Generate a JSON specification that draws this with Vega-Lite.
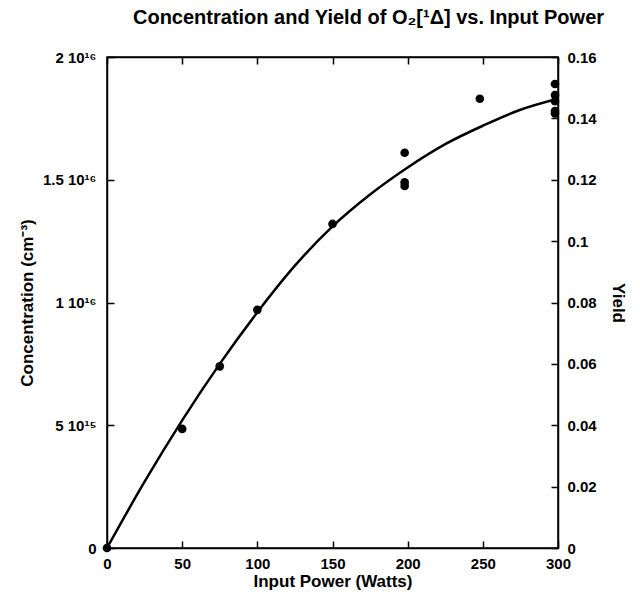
{
  "$schema": "https://vega.github.io/schema/vega-lite/v6.json",
  "width": 451,
  "height": 491,
  "autosize": "none",
  "padding": {"left": 107, "top": 57, "right": 82, "bottom": 52},
  "background": "white",
  "config": {
    "font": "Liberation Sans",
    "view": {"stroke": "black", "strokeWidth": 1.5},
    "axis": {
      "domainColor": "black", "domainWidth": 1.5, "tickColor": "black", "tickWidth": 1.5,
      "labelColor": "black", "titleColor": "black", "labelFont": "Liberation Sans", "titleFont": "Liberation Sans",
      "labelFontWeight": "bold", "titleFontWeight": "bold", "labelFontSize": 15, "titleFontSize": 17, "grid": false,
      "labelFlush": false
    }
  },
  "title": {
    "text": "Concentration and Yield of O₂[¹Δ] vs. Input Power",
    "font": "Liberation Sans", "fontSize": 20, "fontWeight": "bold", "color": "black",
    "anchor": "middle", "offset": 22, "dx": 36
  },
  "datasets": {
    "points": [
      {"power": 0, "conc": 0, "yield": 0},
      {"power": 50, "conc": 4.85e15, "yield": 0.0388},
      {"power": 75, "conc": 7.4e15, "yield": 0.0592},
      {"power": 100, "conc": 9.7e15, "yield": 0.0776},
      {"power": 150, "conc": 1.32e16, "yield": 0.1056},
      {"power": 198, "conc": 1.61e16, "yield": 0.1288},
      {"power": 198, "conc": 1.49e16, "yield": 0.1192},
      {"power": 198, "conc": 1.475e16, "yield": 0.118},
      {"power": 248, "conc": 1.83e16, "yield": 0.1464},
      {"power": 298, "conc": 1.89e16, "yield": 0.1512},
      {"power": 298, "conc": 1.845e16, "yield": 0.1476},
      {"power": 298, "conc": 1.82e16, "yield": 0.1456},
      {"power": 298, "conc": 1.78e16, "yield": 0.1424},
      {"power": 298, "conc": 1.77e16, "yield": 0.1416}
    ],
    "fit": [
      {"power": 0, "conc": 0},
      {"power": 25, "conc": 2.7e15},
      {"power": 50, "conc": 5.2e15},
      {"power": 75, "conc": 7.5e15},
      {"power": 100, "conc": 9.6e15},
      {"power": 125, "conc": 1.15e16},
      {"power": 150, "conc": 1.31e16},
      {"power": 175, "conc": 1.44e16},
      {"power": 200, "conc": 1.55e16},
      {"power": 225, "conc": 1.645e16},
      {"power": 250, "conc": 1.72e16},
      {"power": 275, "conc": 1.785e16},
      {"power": 300, "conc": 1.83e16}
    ]
  },
  "layer": [
    {
      "data": {"name": "fit"},
      "mark": {"type": "line", "color": "black", "strokeWidth": 2.5, "interpolate": "monotone", "clip": true},
      "encoding": {
        "x": {"field": "power", "type": "quantitative", "scale": {"domain": [0, 300], "nice": false},
          "axis": {"title": "Input Power (Watts)", "values": [0, 50, 100, 150, 200, 250, 300], "tickSize": -7, "labelPadding": 15, "titlePadding": 2}},
        "y": {"field": "conc", "type": "quantitative", "scale": {"domain": [0, 2e16], "nice": false},
          "axis": {"title": "Concentration (cm⁻³)", "values": [0, 5e15, 1e16, 1.5e16, 2e16], "tickSize": -7, "labelPadding": 18, "titlePadding": 6,
            "labelExpr": "datum.value == 0 ? '0' : datum.value == 5e15 ? '5 10¹⁵' : datum.value == 1e16 ? '1 10¹⁶' : datum.value == 1.5e16 ? '1.5 10¹⁶' : '2 10¹⁶'"}}
      }
    },
    {
      "data": {"name": "points"},
      "mark": {"type": "point", "filled": true, "color": "black", "size": 75, "opacity": 1, "clip": false},
      "encoding": {
        "x": {"field": "power", "type": "quantitative",
          "axis": {"orient": "top", "labels": false, "title": null, "values": [0, 50, 100, 150, 200, 250, 300], "tickSize": -7}},
        "y": {"field": "conc", "type": "quantitative", "axis": null}
      }
    },
    {
      "data": {"name": "points"},
      "mark": {"type": "point", "opacity": 0},
      "encoding": {
        "x": {"field": "power", "type": "quantitative", "axis": null},
        "y": {"field": "yield", "type": "quantitative", "scale": {"domain": [0, 0.16], "nice": false},
          "axis": {"orient": "right", "title": "Yield", "values": [0, 0.02, 0.04, 0.06, 0.08, 0.1, 0.12, 0.14, 0.16], "tickSize": -7, "labelPadding": 16, "titlePadding": 12,
            "labelExpr": "'' + datum.value"}}
      }
    }
  ],
  "resolve": {"scale": {"y": "independent"}, "axis": {"x": "independent", "y": "independent"}}
}
